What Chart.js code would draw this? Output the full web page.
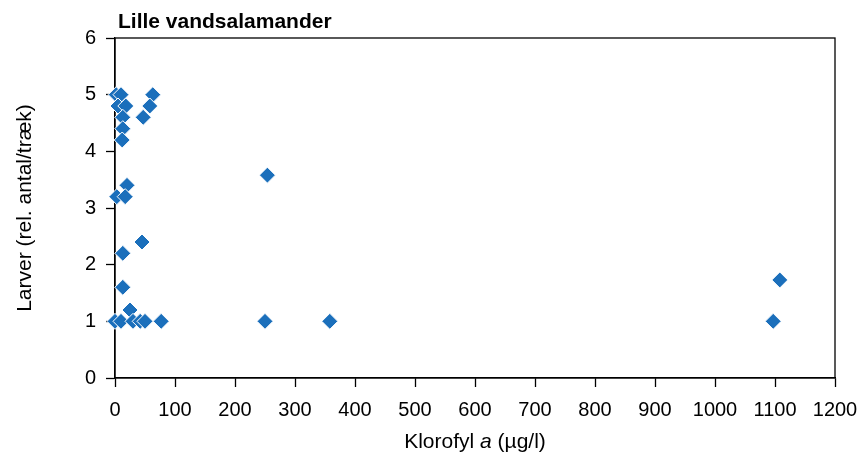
<!DOCTYPE html>
<html>
<head>
<meta charset="utf-8">
<script src="https://cdn.jsdelivr.net/npm/chart.js@4"></script>
<style>
  html, body { margin: 0; padding: 0; background: #fff; }
  #wrap { width: 857px; height: 458px; }
</style>
</head>
<body>
<div id="wrap"><canvas id="c" width="857" height="458"></canvas></div>
<script>
// Chlorophyll a (µg/l) against relative larvae count per haul
const chlorophyll = [2, 10, 63, 5, 18, 58, 13, 47, 13, 12, 20, 3, 17, 45, 13, 13, 25, 0, 10, 30, 42, 50, 77, 254, 250, 358, 1097, 1108];
const larvae      = [5, 5, 5, 4.8, 4.8, 4.8, 4.6, 4.6, 4.4, 4.2, 3.4, 3.2, 3.2, 2.4, 2.2, 1.6, 1.2, 1, 1, 1, 1, 1, 1, 3.58, 1, 1, 1, 1.73];
const xTicks = [0, 100, 200, 300, 400, 500, 600, 700, 800, 900, 1000, 1100, 1200];
const yTicks = [0, 1, 2, 3, 4, 5, 6];
const chartTitle = 'Lille vandsalamander';
const yTitle = 'Larver (rel. antal/træk)';
const xTitleParts = [['Klorofyl ', 'normal'], ['a', 'italic'], [' (µg/l)', 'normal']];

const FONT = '"Liberation Sans", Arial, Helvetica, sans-serif';
const points = chlorophyll.map((x, i) => ({ x, y: larvae[i] }));

const frameAndText = {
  id: 'frameAndText',
  afterDraw(chart) {
    const { ctx, chartArea: a } = chart;
    ctx.save();
    ctx.fillStyle = '#000';
    // chart title
    ctx.font = 'bold 21px ' + FONT;
    ctx.textBaseline = 'alphabetic';
    ctx.textAlign = 'left';
    ctx.fillText(chartTitle, 118, 28);
    // y axis title
    ctx.font = '21px ' + FONT;
    ctx.translate(25, (a.top + a.bottom) / 2);
    ctx.rotate(-Math.PI / 2);
    ctx.textAlign = 'center';
    ctx.textBaseline = 'middle';
    ctx.fillText(yTitle, 0, 0);
    ctx.restore();

    // x axis title with italic "a"
    ctx.save();
    ctx.fillStyle = '#000';
    ctx.textBaseline = 'middle';
    ctx.textAlign = 'left';
    let total = 0;
    xTitleParts.forEach(([t, s]) => { ctx.font = (s === 'italic' ? 'italic ' : '') + '21px ' + FONT; total += ctx.measureText(t).width; });
    let x = (a.left + a.right) / 2 - total / 2;
    xTitleParts.forEach(([t, s]) => {
      ctx.font = (s === 'italic' ? 'italic ' : '') + '21px ' + FONT;
      ctx.fillText(t, x, 442);
      x += ctx.measureText(t).width;
    });
    ctx.restore();
  },
  beforeDatasetsDraw(chart) {
    const { ctx, chartArea: a } = chart;
    ctx.save();
    ctx.strokeStyle = '#000';
    ctx.lineWidth = 1.3;
    ctx.strokeRect(a.left, a.top, a.right - a.left, a.bottom - a.top);
    ctx.restore();
  }
};

new Chart(document.getElementById('c'), {
  type: 'scatter',
  data: {
    datasets: [{
      data: points,
      pointStyle: 'rectRot',
      pointRadius: 8,
      pointHoverRadius: 8,
      backgroundColor: '#1b6fbb',
      borderColor: '#ffffff',
      borderWidth: 1,
      clip: false
    }]
  },
  options: {
    responsive: false,
    animation: false,
    devicePixelRatio: 1,
    layout: { padding: { left: 0, right: 22, top: 38, bottom: 0 } },
    plugins: { legend: { display: false }, tooltip: { enabled: false }, title: { display: false } },
    scales: {
      x: {
        type: 'linear',
        min: 0, max: 1200,
        afterBuildTicks(s) { s.ticks = xTicks.map(v => ({ value: v })); },
        afterFit(s) { s.height = 80; s.paddingLeft = 0; s.paddingRight = 0; },
        grid: { drawOnChartArea: false, drawTicks: true, tickLength: 9, color: '#000', tickWidth: 1.3 },
        border: { display: true, color: '#000', width: 1.3 },
        ticks: { color: '#000', font: { family: FONT, size: 20 }, padding: 11, maxRotation: 0, autoSkip: false, callback: v => String(v) }
      },
      y: {
        type: 'linear',
        min: 0, max: 6,
        afterBuildTicks(s) { s.ticks = yTicks.map(v => ({ value: v })); },
        afterFit(s) { s.width = 115; s.paddingTop = 0; s.paddingBottom = 0; },
        grid: { drawOnChartArea: false, drawTicks: true, tickLength: 9, color: '#000', tickWidth: 1.3 },
        border: { display: true, color: '#000', width: 1.3 },
        ticks: { color: '#000', font: { family: FONT, size: 20 }, padding: 10, callback: v => String(v) }
      }
    }
  },
  plugins: [frameAndText]
});
</script>
</body>
</html>
